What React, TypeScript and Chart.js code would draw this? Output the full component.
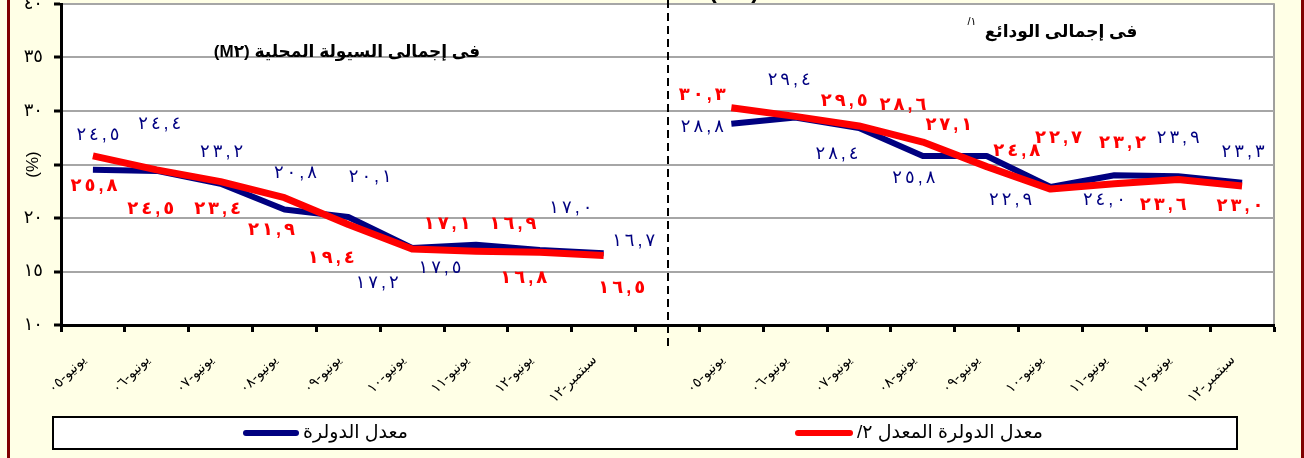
import React, { useEffect, useRef } from 'react';
import { Chart, registerables } from 'chart.js';

Chart.register(...registerables);

// ---------- data ----------
const m2Categories = ['يونيو-٠٥', 'يونيو-٠٦', 'يونيو-٠٧', 'يونيو-٠٨', 'يونيو-٠٩', 'يونيو-١٠', 'يونيو-١١', 'يونيو-١٢', 'سبتمبر-١٢'];
const depositCategories = ['يونيو-٠٥', 'يونيو-٠٦', 'يونيو-٠٧', 'يونيو-٠٨', 'يونيو-٠٩', 'يونيو-١٠', 'يونيو-١١', 'يونيو-١٢', 'سبتمبر-١٢'];

// M2 panel
const m2Dollarization = [24.5, 24.4, 23.2, 20.8, 20.1, 17.2, 17.5, 17.0, 16.7];
const m2Adjusted = [25.8, 24.5, 23.4, 21.9, 19.4, 17.1, 16.9, 16.8, 16.5];
// Deposits panel
const depDollarization = [28.8, 29.4, 28.4, 25.8, 25.8, 22.9, 24.0, 23.9, 23.3];
const depAdjusted = [30.3, 29.5, 28.6, 27.1, 24.8, 22.7, 23.2, 23.6, 23.0];

const yTickValues = [10, 15, 20, 25, 30, 35, 40];
const hiddenYTick = 25; // covered by the axis title

const seriesNames = ['معدل الدولرة', 'معدل الدولرة المعدل ٢/'];
const m2Title = 'فى إجمالى السيولة المحلية (M٢)';
const depTitle = 'فى إجمالى الودائع';
const depTitleNote = '١/';

// ---------- style (label placement relative to each point) ----------
const blueLabelOffsets: (number[] | null)[] = [
  [5, -35], [3, -47], [1, -32], [11, -36], [22, -40], [-35, 35], [-36, 23], [31, -42], [30, -12],
  null,
  [-29, 3], [-6, -37], [-22, 26], [-9, 22], null, [-40, 13], [-10, 25], [0, -38], [1, -31],
];
const redLabelOffsets: (number[] | null)[] = [
  [1, 30], [-6, 39], [-3, 27], [-13, 32], [-17, 34], [35, -25], [37, -27], [-16, 26], [18, 33],
  null,
  [-29, -13], [49, -15], [44, -21], [26, -17], [30, -16], [8, -51], [8, -41], [-15, 26], [-2, 20],
];

const BLUE = '#000080';
const RED = '#ff0000';
const FAMILY = "'Liberation Sans', 'DejaVu Sans', sans-serif";

const toArabicDigits = (s: string) => s.replace(/[0-9]/g, (d) => '٠١٢٣٤٥٦٧٨٩'[+d]);
const fmt = (v: number) => toArabicDigits(v.toFixed(1).replace('.', ','));

const categories = [...m2Categories, '', ...depositCategories];
const blueData = [...m2Dollarization, null, ...depDollarization];
const redData = [...m2Adjusted, null, ...depAdjusted];

// draws a numeric label (visually left-to-right) with extra spacing between glyphs
function drawSpaced(ctx: CanvasRenderingContext2D, text: string, cx: number, cy: number, spacing: number) {
  const chars = Array.from(text);
  const widths = chars.map((c) => ctx.measureText(c).width);
  const total = widths.reduce((s, w) => s + w, 0) + spacing * (chars.length - 1);
  let x = cx - total / 2;
  ctx.textAlign = 'left';
  chars.forEach((c, i) => {
    ctx.fillText(c, x, cy);
    x += widths[i] + spacing;
  });
}

const decorPlugin = {
  id: 'decor',
  beforeDraw(chart: any) {
    const { ctx, chartArea: a, width, height } = chart;
    ctx.save();
    ctx.fillStyle = '#ffffe6';
    ctx.fillRect(0, 0, width, height);
    ctx.fillStyle = '#ffffff';
    ctx.fillRect(a.left, a.top, a.right - a.left, a.bottom - a.top);
    ctx.strokeStyle = '#808080';
    ctx.lineWidth = 1.5;
    ctx.strokeRect(a.left, a.top, a.right - a.left, a.bottom - a.top);
    ctx.fillStyle = '#7f0000';
    ctx.fillRect(7, 0, 3, height);
    ctx.fillRect(width - 3, 0, 3, height);
    ctx.restore();
  },
  afterDatasetsDraw(chart: any) {
    const { ctx } = chart;
    const defs = [
      { idx: 0, offsets: redLabelOffsets, color: RED, weight: 'bold' },
      { idx: 1, offsets: blueLabelOffsets, color: BLUE, weight: 'normal' },
    ];
    ctx.save();
    ctx.textBaseline = 'middle';
    defs.forEach((d) => {
      const meta = chart.getDatasetMeta(d.idx);
      const data = chart.data.datasets[d.idx].data;
      meta.data.forEach((pt: any, i: number) => {
        const v = data[i];
        const off = d.offsets[i];
        if (v == null || !off) return;
        ctx.fillStyle = d.color;
        ctx.font = `${d.weight} 18px ${FAMILY}`;
        drawSpaced(ctx, fmt(v), pt.x + off[0], pt.y + off[1], 3);
      });
    });
    ctx.restore();
  },
  afterDraw(chart: any) {
    const { ctx, chartArea: a } = chart;
    const xs = chart.scales.x;
    ctx.save();
    // dashed separator
    const sx = Math.round(xs.getPixelForValue(9));
    ctx.strokeStyle = '#000';
    ctx.lineWidth = 2;
    ctx.setLineDash([8, 5]);
    ctx.beginPath();
    ctx.moveTo(sx, 0);
    ctx.lineTo(sx, a.bottom + 22);
    ctx.stroke();
    ctx.setLineDash([]);

    // partially visible heading above the plot
    ctx.fillStyle = '#000';
    ctx.font = `bold 24px ${FAMILY}`;
    ctx.textAlign = 'center';
    ctx.textBaseline = 'alphabetic';
    ctx.fillText('( % )', sx + 66, -2);

    // panel titles
    ctx.direction = 'rtl';
    ctx.textBaseline = 'middle';
    ctx.font = `bold 17px ${FAMILY}`;
    ctx.textAlign = 'center';
    ctx.fillText(m2Title, 347, a.top + 48);
    ctx.fillText(depTitle, 1061, a.top + 28);
    ctx.font = `11px ${FAMILY}`;
    ctx.fillText(depTitleNote, 972, a.top + 18);

    // legend box
    ctx.direction = 'ltr';
    const lx = 53, ly = 417, lw = 1184, lh = 32;
    ctx.fillStyle = '#fff';
    ctx.fillRect(lx, ly, lw, lh);
    ctx.strokeStyle = '#000';
    ctx.lineWidth = 2;
    ctx.strokeRect(lx, ly, lw, lh);
    const items = [
      { ds: 1, x0: 246, x1: 296, tx: 303 },
      { ds: 0, x0: 798, x1: 850, tx: 857 },
    ];
    const cy = ly + lh / 2;
    items.forEach((it) => {
      const ds = chart.data.datasets[it.ds];
      ctx.strokeStyle = ds.borderColor;
      ctx.lineWidth = 6;
      ctx.lineCap = 'round';
      ctx.beginPath();
      ctx.moveTo(it.x0, cy);
      ctx.lineTo(it.x1, cy);
      ctx.stroke();
      ctx.fillStyle = '#000';
      ctx.font = `19px ${FAMILY}`;
      ctx.direction = 'rtl';
      ctx.textAlign = 'left';
      ctx.textBaseline = 'middle';
      ctx.fillText(ds.label, it.tx, cy);
      ctx.direction = 'ltr';
    });
    ctx.restore();
  },
};

export default function App() {
  const canvasRef = useRef<HTMLCanvasElement | null>(null);

  useEffect(() => {
    if (!canvasRef.current) return;
    const chart = new Chart(canvasRef.current, {
      type: 'line',
      data: {
        labels: categories,
        datasets: [
          {
            label: seriesNames[1],
            data: redData,
            borderColor: RED,
            backgroundColor: RED,
            borderWidth: 7,
            pointRadius: 0,
            tension: 0,
            spanGaps: false,
            borderJoinStyle: 'round',
            borderCapStyle: 'butt',
            order: 0,
          },
          {
            label: seriesNames[0],
            data: blueData,
            borderColor: BLUE,
            backgroundColor: BLUE,
            borderWidth: 6,
            pointRadius: 0,
            tension: 0,
            spanGaps: false,
            borderJoinStyle: 'round',
            borderCapStyle: 'butt',
            order: 1,
          },
        ],
      },
      options: {
        animation: false,
        responsive: false,
        devicePixelRatio: 1,
        layout: { padding: { left: 0, right: 30, top: 4, bottom: 0 } },
        plugins: { legend: { display: false }, tooltip: { enabled: false } },
        scales: {
          x: {
            type: 'category',
            offset: true,
            grid: { offset: true, drawOnChartArea: false, drawTicks: true, tickLength: 7, tickWidth: 3, tickColor: '#000' },
            border: { display: true, color: '#000', width: 3 },
            ticks: {
              autoSkip: false,
              maxRotation: 45,
              minRotation: 45,
              padding: 20,
              labelOffset: -9,
              color: '#000',
              font: { family: "'DejaVu Sans', sans-serif", size: 14 },
            },
            afterFit: (s: any) => {
              s.height = 133;
              s.paddingLeft = 0;
              s.paddingRight = 0;
            },
          },
          y: {
            min: yTickValues[0],
            max: yTickValues[yTickValues.length - 1],
            afterBuildTicks: (s: any) => {
              s.ticks = yTickValues.map((v) => ({ value: v }));
            },
            ticks: {
              padding: 11,
              color: '#000',
              font: { family: "'DejaVu Sans', sans-serif", size: 18 },
              callback: (v: any) => (v === hiddenYTick ? '' : toArabicDigits(String(v))),
            },
            grid: { color: '#a6a6a6', lineWidth: 2, tickColor: '#000', tickWidth: 3, tickLength: 7 },
            border: { color: '#000', width: 3 },
            title: { display: true, text: '(%)', color: '#000', font: { family: FAMILY, size: 17 }, padding: { top: 23, bottom: 0 } },
            afterFit: (s: any) => {
              s.width = 61;
              s.paddingTop = 0;
              s.paddingBottom = 0;
            },
          },
        },
      } as any,
      plugins: [decorPlugin],
    });
    return () => chart.destroy();
  }, []);

  return (
    <div style={{ position: 'fixed', left: 0, top: 0, width: 1304, height: 458 }}>
      <canvas ref={canvasRef} width={1304} height={458} style={{ display: 'block' }} />
    </div>
  );
}
